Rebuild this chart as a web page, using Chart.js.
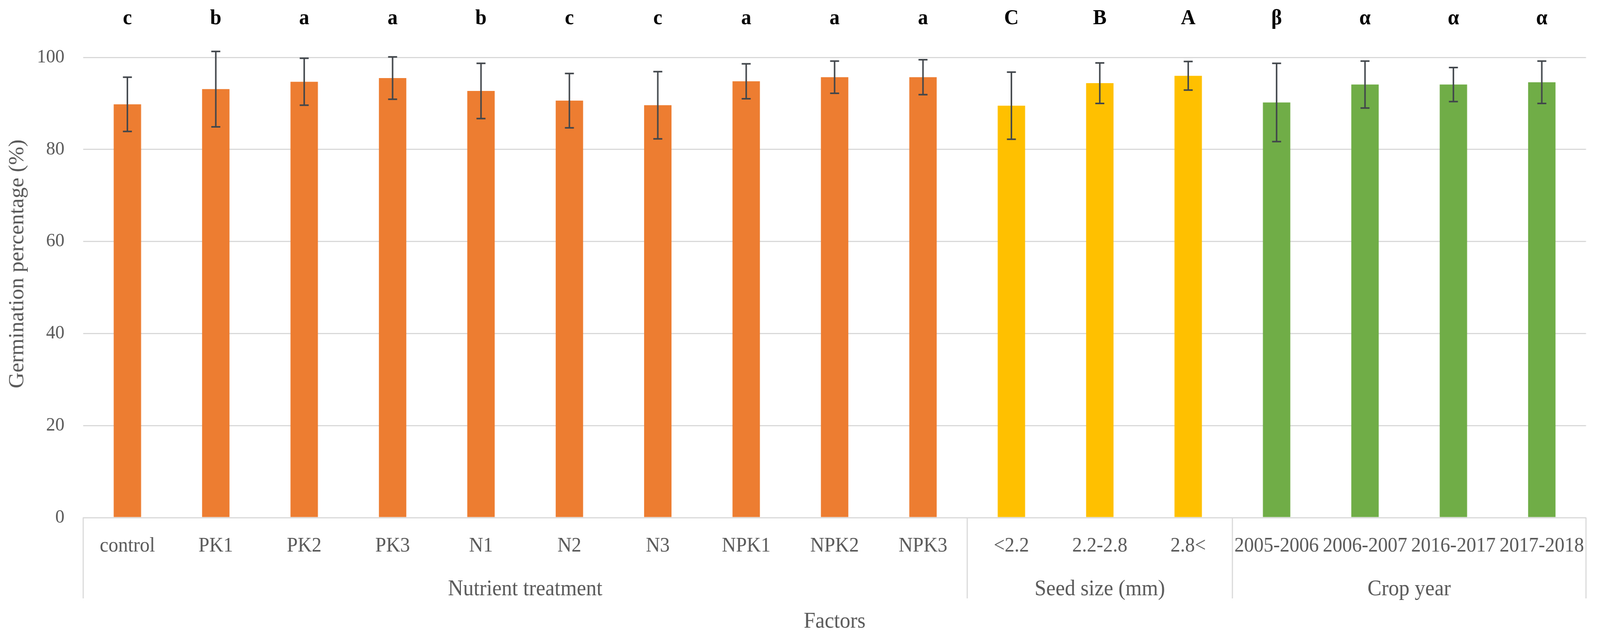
<!DOCTYPE html>
<html>
<head>
<meta charset="utf-8">
<script src="https://cdn.jsdelivr.net/npm/chart.js@4/dist/chart.umd.min.js"></script>
<style>
  html, body { margin: 0; padding: 0; background: #fff; overflow: hidden; }
  #chart { display: block; }
</style>
</head>
<body>
<canvas id="chart" width="4270" height="1637" style="width:100vw;height:100vh"></canvas>
<script>
const categories = ['control', 'PK1', 'PK2', 'PK3', 'N1', 'N2', 'N3', 'NPK1', 'NPK2', 'NPK3',
  '<2.2', '2.2-2.8', '2.8<', '2005-2006', '2006-2007', '2016-2017', '2017-2018'];
const means = [89.8, 93.1, 94.7, 95.5, 92.7, 90.6, 89.6, 94.8, 95.7, 95.7, 89.5, 94.4, 96.0, 90.2, 94.1, 94.1, 94.6];
const sds = [5.9, 8.2, 5.1, 4.6, 6.0, 5.9, 7.3, 3.8, 3.5, 3.8, 7.3, 4.4, 3.1, 8.5, 5.1, 3.7, 4.6];
const letters = ['c', 'b', 'a', 'a', 'b', 'c', 'c', 'a', 'a', 'a', 'C', 'B', 'A', 'β', 'α', 'α', 'α'];
const groupLabels = ['Nutrient treatment', 'Seed size (mm)', 'Crop year'];
const groupSizes = [10, 3, 4];
const groupColors = ['#ED7D31', '#FFC000', '#70AD47'];
const yTicks = [0, 20, 40, 60, 80, 100];

const FONT = "'Liberation Serif', 'Times New Roman', serif";
const TEXT = '#595959';
const GRID = '#D9D9D9';

const barColors = [];
groupSizes.forEach((n, g) => { for (let i = 0; i < n; i++) barColors.push(groupColors[g]); });

// error bars, significance letters, group labels and separators
const extras = {
  id: 'extras',
  afterDatasetsDraw(chart) {
    const { ctx, chartArea } = chart;
    const x = chart.scales.x;
    const y = chart.scales.y;
    ctx.save();
    ctx.strokeStyle = '#41464B';
    ctx.lineWidth = 4;
    means.forEach((m, i) => {
      const cx = x.getPixelForValue(i);
      const top = y.getPixelForValue(m + sds[i]);
      const bot = y.getPixelForValue(m - sds[i]);
      ctx.beginPath();
      ctx.moveTo(cx, top); ctx.lineTo(cx, bot);
      ctx.moveTo(cx - 12, top); ctx.lineTo(cx + 12, top);
      ctx.moveTo(cx - 12, bot); ctx.lineTo(cx + 12, bot);
      ctx.stroke();
    });

    ctx.fillStyle = '#000';
    ctx.font = 'bold 54px ' + FONT;
    ctx.textAlign = 'center';
    ctx.textBaseline = 'alphabetic';
    letters.forEach((t, i) => {
      ctx.fillText(t, x.getPixelForValue(i), chartArea.top - 85);
    });

    const step = x.getPixelForValue(1) - x.getPixelForValue(0);
    ctx.strokeStyle = GRID;
    ctx.lineWidth = 3;
    ctx.fillStyle = TEXT;
    ctx.font = '56px ' + FONT;
    ctx.textBaseline = 'middle';
    let start = 0;
    const edges = [x.getPixelForValue(0) - step / 2];
    groupSizes.forEach((n, g) => {
      const left = x.getPixelForValue(start) - step / 2;
      const right = x.getPixelForValue(start + n - 1) + step / 2;
      edges.push(right);
      ctx.fillText(groupLabels[g], (left + right) / 2, chartArea.bottom + 184);
      start += n;
    });
    edges.forEach((ex) => {
      ctx.beginPath();
      ctx.moveTo(ex, chartArea.bottom);
      ctx.lineTo(ex, chartArea.bottom + 207);
      ctx.stroke();
    });

    ctx.translate(47, 676);
    ctx.rotate(-Math.PI / 2);
    ctx.fillText('Germination percentage (%)', 0, 0);
    ctx.restore();
  },
};

new Chart(document.getElementById('chart'), {
  type: 'bar',
  data: {
    labels: categories,
    datasets: [{
      data: means,
      backgroundColor: barColors,
      borderWidth: 0,
      barPercentage: 0.31,
      categoryPercentage: 1,
    }],
  },
  options: {
    responsive: false,
    animation: false,
    devicePixelRatio: 1,
    layout: { padding: { top: 147, right: 23, bottom: 0, left: 0 } },
    plugins: { legend: { display: false }, tooltip: { enabled: false } },
    scales: {
      x: {
        grid: { display: false, drawTicks: false },
        border: { display: true, color: GRID, width: 3 },
        ticks: { color: TEXT, font: { family: FONT, size: 52 }, padding: 42, maxRotation: 0, autoSkip: false },
        title: { display: true, text: 'Factors', color: TEXT, font: { family: FONT, size: 56 }, padding: { top: 0, bottom: 10 } },
        afterFit(scale) { scale.height = 311; },
      },
      y: {
        min: 0,
        max: 100,
        afterBuildTicks(scale) { scale.ticks = yTicks.map((v) => ({ value: v })); },
        grid: { color: GRID, lineWidth: 3, drawTicks: false },
        border: { display: false },
        ticks: { color: TEXT, font: { family: FONT, size: 49 }, padding: 50 },
        afterFit(scale) { scale.width = 222; },
      },
    },
  },
  plugins: [extras],
});
</script>
</body>
</html>
